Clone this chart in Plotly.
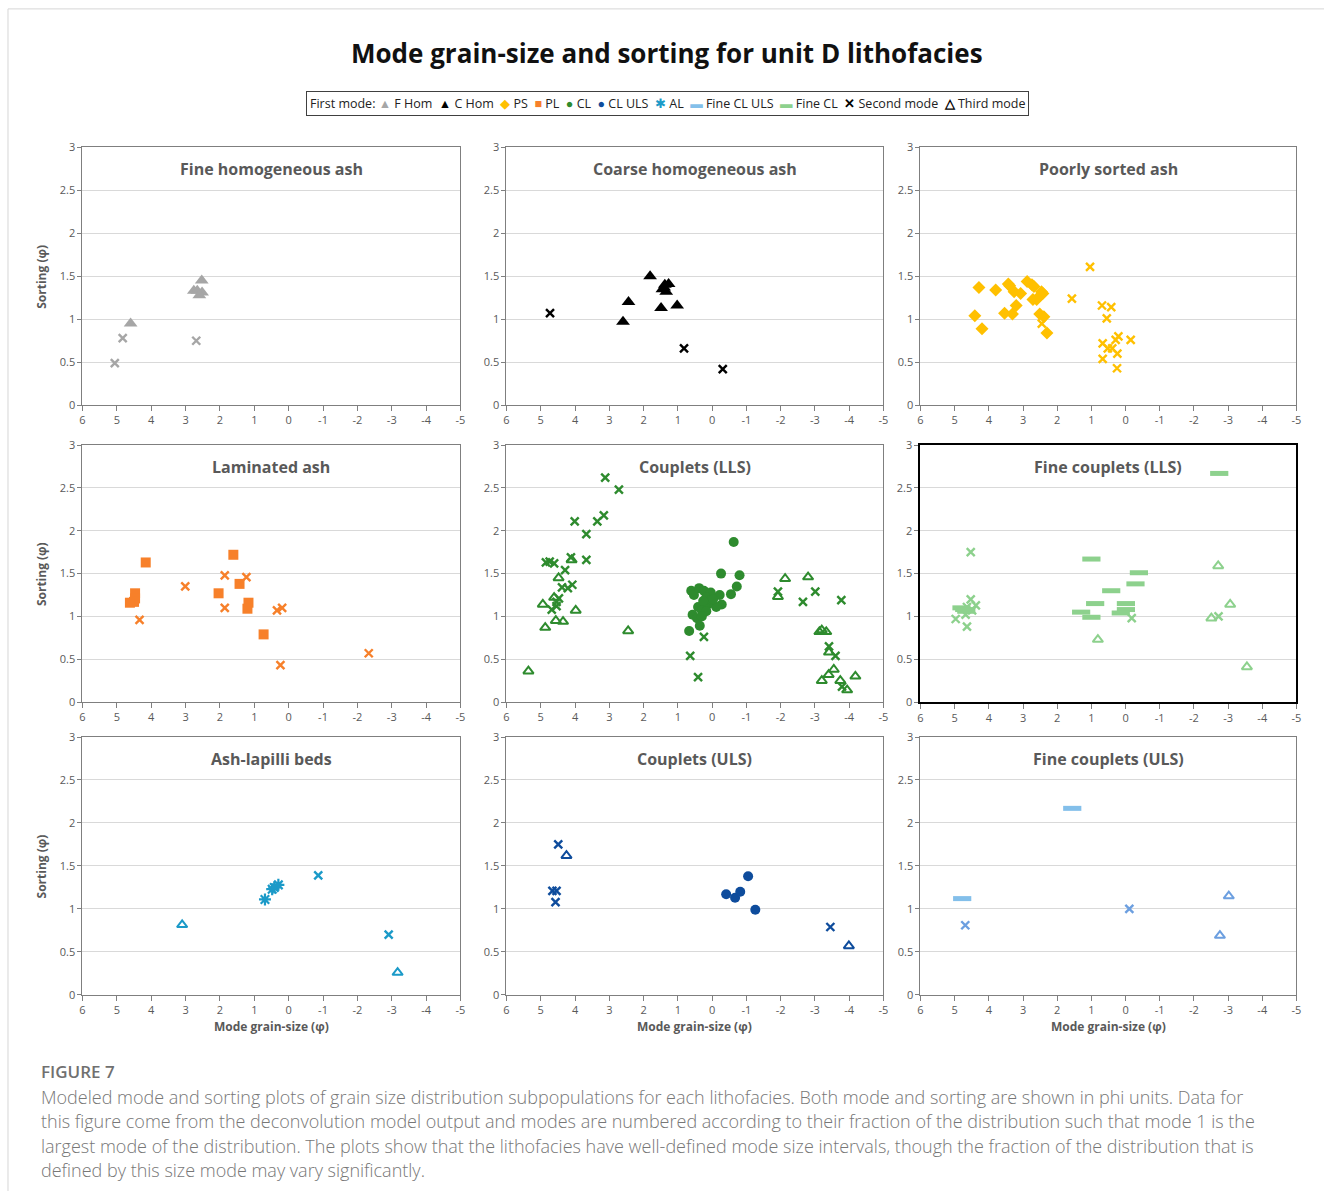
import plotly.graph_objects as go

# ---------------------------------------------------------------------------
# Data: mode grain-size (phi) and sorting (phi) for each lithofacies
# ---------------------------------------------------------------------------
X_TICK_VALS = [6, 5, 4, 3, 2, 1, 0, -1, -2, -3, -4, -5]
X_TICK_TEXT = ["6", "5", "4", "3", "2", "1", "0", "-1", "-2", "-3", "-4", "-5"]
Y_TICK_VALS = [0, 0.5, 1, 1.5, 2, 2.5, 3]
Y_TICK_TEXT = ["0", "0.5", "1", "1.5", "2", "2.5", "3"]

PANEL_TITLES = [
    "Fine homogeneous ash", "Coarse homogeneous ash", "Poorly sorted ash",
    "Laminated ash", "Couplets (LLS)", "Fine couplets (LLS)",
    "Ash-lapilli beds", "Couplets (ULS)", "Fine couplets (ULS)",
]

# Fine homogeneous ash (F Hom)
fhom_first_x = [4.60, 2.76, 2.66, 2.53, 2.52, 2.60]
fhom_first_y = [0.95, 1.33, 1.33, 1.45, 1.31, 1.28]
fhom_second_x = [4.83, 5.06, 2.69]
fhom_second_y = [0.78, 0.49, 0.75]
fhom_third_x = []
fhom_third_y = []

# Coarse homogeneous ash (C Hom)
chom_first_x = [1.81, 2.44, 2.60, 1.49, 1.02, 1.38, 1.27, 1.45, 1.34, 1.40]
chom_first_y = [1.50, 1.20, 0.97, 1.13, 1.16, 1.40, 1.41, 1.35, 1.32, 1.37]
chom_second_x = [4.73, 0.82, -0.31]
chom_second_y = [1.07, 0.66, 0.42]
chom_third_x = []
chom_third_y = []

# Poorly sorted ash (PS)
ps_first_x = [4.41, 4.29, 4.20, 3.80, 3.54, 3.43, 3.39, 3.31, 3.26, 3.20, 3.07,
              2.88, 2.74, 2.68, 2.71, 2.60, 2.49, 2.46, 2.42, 2.51, 2.39, 2.30]
ps_first_y = [1.04, 1.37, 0.89, 1.34, 1.07, 1.41, 1.39, 1.06, 1.32, 1.16, 1.30,
              1.44, 1.40, 1.38, 1.23, 1.23, 1.28, 1.32, 1.30, 1.06, 1.03, 0.84]
ps_second_x = [1.04, 1.57, 0.69, 0.42, 0.55, 2.45, 0.67, 0.67, 0.52, 0.39, 0.29,
               0.21, 0.24, 0.25, -0.15]
ps_second_y = [1.61, 1.24, 1.16, 1.14, 1.01, 0.95, 0.72, 0.54, 0.66, 0.66, 0.76,
               0.80, 0.60, 0.43, 0.76]
ps_third_x = []
ps_third_y = []

# Laminated ash (PL)
pl_first_x = [4.16, 4.47, 4.47, 4.50, 4.62, 1.61, 1.43, 2.04, 1.17, 1.20, 0.73]
pl_first_y = [1.63, 1.27, 1.21, 1.17, 1.16, 1.72, 1.38, 1.27, 1.16, 1.09, 0.79]
pl_second_x = [3.01, 1.86, 1.23, 1.86, 4.34, 0.34, 0.19, 0.24, -2.33]
pl_second_y = [1.35, 1.48, 1.46, 1.10, 0.96, 1.07, 1.10, 0.43, 0.57]
pl_third_x = []
pl_third_y = []

# Couplets, lower lithostratigraphic sequence (CL)
cl_first_x = [-0.63, -0.26, -0.80, -0.72, -0.55, -0.22, -0.28, -0.12, 0.61, 0.53,
              0.38, 0.24, 0.04, 0.17, 0.05, 0.12, 0.21, 0.41, 0.30, 0.17, 0.57,
              0.44, 0.30, 0.36, 0.67, 0.26, -0.03]
cl_first_y = [1.87, 1.50, 1.48, 1.35, 1.26, 1.25, 1.14, 1.11, 1.30, 1.25,
              1.33, 1.30, 1.28, 1.22, 1.19, 1.14, 1.12, 1.11, 1.07, 1.06, 1.02,
              0.98, 1.00, 0.89, 0.83, 1.18, 1.20]
cl_second_x = [3.12, 2.72, 3.16, 3.35, 4.01, 3.67, 3.67, 4.12, 4.85, 4.74, 4.61,
               4.29, 4.08, 4.21, 4.38, 4.47, 4.54, 4.68, 4.54, 0.64, 0.41, 0.24,
               -1.92, -2.65, -3.01, -3.77, -3.41, -3.60, -3.79]
cl_second_y = [2.62, 2.48, 2.18, 2.11, 2.11, 1.96, 1.66, 1.69, 1.63, 1.64, 1.62,
               1.54, 1.37, 1.33, 1.34, 1.21, 1.17, 1.08, 1.12, 0.54, 0.29, 0.76,
               1.29, 1.17, 1.29, 1.19, 0.65, 0.54, 0.18]
cl_third_x = [5.36, 4.94, 4.87, 4.56, 4.35, 4.48, 4.61, 4.10, 3.98, 2.45, -1.92,
              -2.13, -2.80, -3.13, -3.20, -3.33, -3.20, -3.40, -3.55, -3.74,
              -3.94, -4.18, -3.41]
cl_third_y = [0.36, 1.14, 0.87, 0.95, 0.94, 1.45, 1.22, 1.66, 1.07, 0.83, 1.23,
              1.44, 1.46, 0.82, 0.84, 0.82, 0.25, 0.32, 0.38, 0.25, 0.14, 0.30,
              0.58]

# Fine couplets, lower lithostratigraphic sequence (Fine CL)
fcl_first_x = [-2.74, 1.00, -0.39, -0.29, 0.42, 0.89, -0.01, -0.01, 0.14, 1.30,
               1.00, 4.80, 4.72, 4.66]
fcl_first_y = [2.67, 1.67, 1.51, 1.38, 1.30, 1.15, 1.15, 1.08, 1.04, 1.05,
               0.99, 1.10, 1.08, 1.06]
fcl_second_x = [4.53, 4.97, 4.64, 4.53, 4.38, 4.64, 4.49, 4.68, -0.18, -2.72]
fcl_second_y = [1.75, 0.97, 0.88, 1.20, 1.13, 1.11, 1.07, 1.02, 0.98, 1.00]
fcl_third_x = [0.81, -2.71, -3.06, -2.51, -3.55]
fcl_third_y = [0.73, 1.59, 1.14, 0.98, 0.41]

# Ash-lapilli beds (AL)
al_first_x = [0.69, 0.48, 0.42, 0.30]
al_first_y = [1.11, 1.23, 1.25, 1.28]
al_second_x = [-0.86, -2.91]
al_second_y = [1.39, 0.70]
al_third_x = [3.10, -3.17]
al_third_y = [0.815, 0.26]

# Couplets, upper lithostratigraphic sequence (CL ULS)
cluls_first_x = [-0.41, -0.67, -0.82, -1.05, -1.26]
cluls_first_y = [1.17, 1.13, 1.20, 1.38, 0.99]
cluls_second_x = [4.49, 4.66, 4.54, 4.57, -3.45]
cluls_second_y = [1.75, 1.21, 1.21, 1.08, 0.79]
cluls_third_x = [4.25, -3.99]
cluls_third_y = [1.62, 0.57]

# Fine couplets, upper lithostratigraphic sequence (Fine CL ULS)
fcluls_first_x = [1.56, 4.78]
fcluls_first_y = [2.17, 1.12]
fcluls_second_x = [4.69, -0.11]
fcluls_second_y = [0.81, 1.00]
fcluls_third_x = [-3.02, -2.76]
fcluls_third_y = [1.15, 0.69]

# ---------------------------------------------------------------------------
# Styling
# ---------------------------------------------------------------------------
W, H = 1329, 1198
# page placement of the plot div (offset and scale of the rendered page)
OFF_X, SCALE_X = 3.5, 0.994
OFF_Y, SCALE_Y = 7.6, 0.988
FONT = "Open Sans"
GREY_TEXT = "#595959"

# marker style for the first mode of each facies; second/third modes share colour
panels = [
    dict(first=(fhom_first_x, fhom_first_y), second=(fhom_second_x, fhom_second_y),
         third=(fhom_third_x, fhom_third_y), color="#A6A6A6", sym="triangle-up", size=12),
    dict(first=(chom_first_x, chom_first_y), second=(chom_second_x, chom_second_y),
         third=(chom_third_x, chom_third_y), color="#000000", sym="triangle-up", size=12),
    dict(first=(ps_first_x, ps_first_y), second=(ps_second_x, ps_second_y),
         third=(ps_third_x, ps_third_y), color="#FFC000", sym="diamond", size=10),
    dict(first=(pl_first_x, pl_first_y), second=(pl_second_x, pl_second_y),
         third=(pl_third_x, pl_third_y), color="#F7802A", sym="square", size=10),
    dict(first=(cl_first_x, cl_first_y), second=(cl_second_x, cl_second_y),
         third=(cl_third_x, cl_third_y), color="#2E8B2E", sym="circle", size=10),
    dict(first=(fcl_first_x, fcl_first_y), second=(fcl_second_x, fcl_second_y),
         third=(fcl_third_x, fcl_third_y), color="#8DD18D", sym="line-ew-open", size=13),
    dict(first=(al_first_x, al_first_y), second=(al_second_x, al_second_y),
         third=(al_third_x, al_third_y), color="#1B9AC8", sym="asterisk-open", size=10),
    dict(first=(cluls_first_x, cluls_first_y), second=(cluls_second_x, cluls_second_y),
         third=(cluls_third_x, cluls_third_y), color="#0E4C9C", sym="circle", size=10),
    dict(first=(fcluls_first_x, fcluls_first_y), second=(fcluls_second_x, fcluls_second_y),
         third=(fcluls_third_x, fcluls_third_y), color="#83BFEA", sym="line-ew-open", size=13,
         mode_color="#6C9FE0"),
]

# plot-area boxes in page pixels
COLS_PX = [(83, 461), (507, 884), (921, 1297)]
ROWS_PX = [(147, 405), (445, 702), (737, 995)]


def px(xp):
    return ((xp - OFF_X) / SCALE_X) / W


def py(yp):
    return 1 - ((yp - OFF_Y) / SCALE_Y) / H


fig = go.Figure()
layout = dict(
    width=W, height=H,
    margin=dict(l=0, r=0, t=0, b=0),
    paper_bgcolor="white", plot_bgcolor="white",
    showlegend=False,
    font=dict(family=FONT, color=GREY_TEXT),
)
annotations = []

for k, p in enumerate(panels):
    r, c = divmod(k, 3)
    s = "" if k == 0 else str(k + 1)
    x0, x1 = COLS_PX[c]
    y0, y1 = ROWS_PX[r]
    frame_col = "#000000" if k == 5 else "#7F7F7F"
    frame_w = 2 if k == 5 else 1.2
    layout["xaxis" + s] = dict(
        domain=[px(x0), px(x1)], anchor="y" + s, range=[6, -5],
        tickmode="array", tickvals=X_TICK_VALS, ticktext=X_TICK_TEXT,
        showgrid=False, zeroline=False, showline=True, mirror=True,
        linecolor=frame_col, linewidth=frame_w,
        ticks="outside", ticklen=5, tickcolor="#7F7F7F", tickwidth=1,
        tickfont=dict(family=FONT, size=11, color=GREY_TEXT), fixedrange=True,
    )
    layout["yaxis" + s] = dict(
        domain=[py(y1), py(y0)], anchor="x" + s, range=[0, 3],
        tickmode="array", tickvals=Y_TICK_VALS, ticktext=Y_TICK_TEXT,
        showgrid=True, gridcolor="#D9D9D9", gridwidth=1, zeroline=False,
        showline=True, mirror=True, linecolor=frame_col, linewidth=frame_w,
        ticks="outside", ticklen=4, tickcolor="#7F7F7F", tickwidth=1,
        tickfont=dict(family=FONT, size=11, color=GREY_TEXT), fixedrange=True,
    )
    col = p["color"]
    mcol = p.get("mode_color", col)
    xa, ya = "x" + s, "y" + s

    # third mode: open triangles
    if p["third"][0]:
        fig.add_trace(go.Scatter(
            x=p["third"][0], y=p["third"][1], mode="markers", xaxis=xa, yaxis=ya,
            marker=dict(symbol="triangle-up-open", size=9, color=mcol,
                        line=dict(color=mcol, width=2)),
            cliponaxis=False, hoverinfo="x+y"))
    # second mode: crosses
    fig.add_trace(go.Scatter(
        x=p["second"][0], y=p["second"][1], mode="markers", xaxis=xa, yaxis=ya,
        marker=dict(symbol="x-thin-open", size=8, color=mcol,
                    line=dict(color=mcol, width=2.4)),
        cliponaxis=False, hoverinfo="x+y"))
    # first mode
    if p["sym"].endswith("-open"):
        lw = 5 if p["sym"].startswith("line") else 2.2
        mk = dict(symbol=p["sym"], size=p["size"], color=col, line=dict(color=col, width=lw))
    else:
        mk = dict(symbol=p["sym"], size=p["size"], color=col, line=dict(width=0))
    fig.add_trace(go.Scatter(
        x=p["first"][0], y=p["first"][1], mode="markers", xaxis=xa, yaxis=ya,
        marker=mk, cliponaxis=False, hoverinfo="x+y"))

    # panel title
    annotations.append(dict(
        text="<b>" + PANEL_TITLES[k] + "</b>", xref="paper", yref="paper",
        x=px((x0 + x1) / 2), y=py(y0 + 22), xanchor="center", yanchor="middle",
        showarrow=False, font=dict(family=FONT, size=16, color=GREY_TEXT)))

    # axis titles on outer panels only
    if c == 0:
        annotations.append(dict(
            text="<b>Sorting (φ)</b>", xref="paper", yref="paper",
            x=px(42), y=py((y0 + y1) / 2), xanchor="center", yanchor="middle",
            textangle=-90, showarrow=False,
            font=dict(family=FONT, size=12, color=GREY_TEXT)))
    if r == 2:
        annotations.append(dict(
            text="<b>Mode grain-size (φ)</b>", xref="paper", yref="paper",
            x=px((x0 + x1) / 2), y=py(1027), xanchor="center", yanchor="middle",
            showarrow=False, font=dict(family=FONT, size=12, color=GREY_TEXT)))

# main title
annotations.append(dict(
    text="<b>Mode grain-size and sorting for unit D lithofacies</b>",
    xref="paper", yref="paper", x=px(668), y=py(53), xanchor="center", yanchor="middle",
    showarrow=False, font=dict(family=FONT, size=26, color="#111111")))


# legend strip
def swatch(glyph, colour):
    return '<span style="color:%s">%s</span>' % (colour, glyph)


legend_items = [
    (swatch("▲", "#A6A6A6"), "F Hom"), (swatch("▲", "#000000"), "C Hom"),
    (swatch("◆", "#FFC000"), "PS"), (swatch("■", "#F7802A"), "PL"),
    (swatch("●", "#2E8B2E"), "CL"), (swatch("●", "#0E4C9C"), "CL ULS"),
    (swatch("✱", "#1B9AC8"), "AL"), (swatch("▬", "#83BFEA"), "Fine CL ULS"),
    (swatch("▬", "#8DD18D"), "Fine CL"), (swatch("<b>✕</b>", "#000000"), "Second mode"),
    (swatch("<b>△</b>", "#000000"), "Third mode"),
]
legend_text = "First mode: " + "  ".join(g + " " + t for g, t in legend_items)
annotations.append(dict(
    text=legend_text, xref="paper", yref="paper", x=px(668), y=py(103),
    xanchor="center", yanchor="middle", showarrow=False,
    bordercolor="#404040", borderwidth=1, borderpad=3, bgcolor="white",
    font=dict(family=FONT, size=12.5, color="#222222")))

# caption
annotations.append(dict(
    text="FIGURE 7", xref="paper", yref="paper", x=px(40), y=py(1072),
    xanchor="left", yanchor="middle", showarrow=False,
    font=dict(family=FONT, size=17, color="#707070", weight=600)))
caption_lines = [
    "Modeled mode and sorting plots of grain size distribution subpopulations for each lithofacies. Both mode and sorting are shown in phi units. Data for",
    "this figure come from the deconvolution model output and modes are numbered according to their fraction of the distribution such that mode 1 is the",
    "largest mode of the distribution. The plots show that the lithofacies have well-defined mode size intervals, though the fraction of the distribution that is",
    "defined by this size mode may vary significantly.",
]
for i, line in enumerate(caption_lines):
    annotations.append(dict(
        text=line, xref="paper", yref="paper", x=px(40), y=py(1097 + 24.5 * i),
        xanchor="left", yanchor="middle", showarrow=False,
        font=dict(family=FONT, size=18, color="#777777", weight=300)))

layout["annotations"] = annotations

# thin card outline along the top and left edges
layout["shapes"] = [
    dict(type="line", xref="paper", yref="paper", x0=px(8.5), x1=1.0, y0=py(8.5), y1=py(8.5),
         line=dict(color="#D6D6D6", width=1)),
    dict(type="line", xref="paper", yref="paper", x0=px(8.5), x1=px(8.5), y0=py(8.5), y1=0,
         line=dict(color="#D6D6D6", width=1)),
]

fig.update_layout(**layout)
fig.write_html("out.html")
